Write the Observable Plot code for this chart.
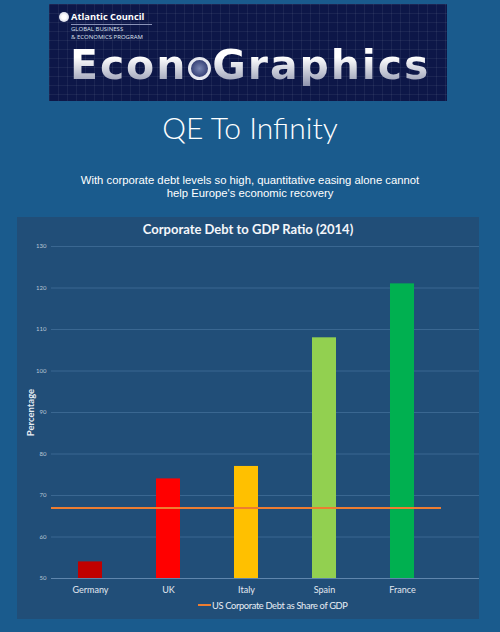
<!DOCTYPE html>
<html>
<head>
<meta charset="utf-8">
<script src="https://cdn.jsdelivr.net/npm/d3@7"></script>
<script src="https://cdn.jsdelivr.net/npm/@observablehq/plot@0.6"></script>
<style>
  html, body { margin: 0; padding: 0; }
  body { width: 500px; height: 632px; background: #1a5b8d; position: relative; overflow: hidden; font-family: "Liberation Sans", Arial, sans-serif; color: #fff; }
  .abs { position: absolute; }
  #header { left: 49px; top: 4px; width: 398px; height: 97px; background-color: #0d1748;
    background-image: linear-gradient(rgba(255,255,255,0.06) 1px, transparent 1px), linear-gradient(90deg, rgba(255,255,255,0.06) 1px, transparent 1px);
    background-size: 9px 9px; }
  #globe { left: 10px; top: 8px; width: 10px; height: 10px; border-radius: 50%; background: radial-gradient(#ffffff 30%, #b9bfd6 100%); }
  #ac { left: 22px; top: 7px; font: bold 9.3px "Open Sans", sans-serif; line-height: 12.7px; white-space: nowrap; }
  #acline { left: 22px; top: 20px; width: 81px; height: 1px; background: #8a93b8; }
  #prog { left: 22px; top: 21px; font: 6px "Open Sans", sans-serif; line-height: 8.2px; color: #dfe3f0; white-space: nowrap; }
  #eg { left: 21px; top: 41px; font: bold 41px "DejaVu Sans", sans-serif; line-height: 41px; letter-spacing: 1.9px; white-space: nowrap;
    background: linear-gradient(#ffffff 30%, #8d93ad 100%); -webkit-background-clip: text; background-clip: text; color: transparent; }
  #logo { display: inline-block; width: 23px; height: 23px; border-radius: 50%; border: 3px solid #e6e8f0; box-sizing: border-box; vertical-align: -1px; margin: 0 1px; background: radial-gradient(#7a86b2, #1c2660); }
  #title { left: 0; width: 500px; top: 109px; text-align: center; font: 300 30px "Lato", sans-serif; }
  #sub { left: 0; width: 500px; top: 174px; text-align: center; font: 11.3px "Liberation Sans", Arial, sans-serif; line-height: 13px; }
  #panel { left: 17px; top: 217px; width: 462px; height: 402px; background: #214e78; }
  #ctitle { left: 17px; width: 462px; top: 221px; text-align: center; font: bold 13px "Lato", sans-serif; color: #f4f6fa; }
  #legend { left: 198px; top: 600px; font: 9.3px "Lato", sans-serif; letter-spacing: -0.35px; color: #e8edf4; white-space: nowrap; }
  #legend span.sw { display: inline-block; width: 13px; height: 2px; background: #ed7d31; vertical-align: 3px; margin-right: 1px; }
  #chart { left: 17px; top: 217px; }
</style>
</head>
<body>
<div id="header" class="abs">
  <div id="globe" class="abs"></div>
  <div id="ac" class="abs">Atlantic Council</div>
  <div id="acline" class="abs"></div>
  <div id="prog" class="abs">GLOBAL BUSINESS<br>&amp; ECONOMICS PROGRAM</div>
  <div id="eg" class="abs">Econ<span id="logo"></span>Graphics</div>
</div>
<div id="title" class="abs">QE To Infinity</div>
<div id="sub" class="abs">With corporate debt levels so high, quantitative easing alone cannot<br>help Europe's economic recovery</div>
<div id="panel" class="abs"></div>
<div id="ctitle" class="abs">Corporate Debt to GDP Ratio (2014)</div>
<div id="chart" class="abs"></div>
<div id="legend" class="abs"><span class="sw"></span>US Corporate Debt as Share of GDP</div>
<script>
const countries = ["Germany", "UK", "Italy", "Spain", "France"];
const debtRatio = [54, 74, 77, 108, 121];
const barColors = ["#c00000", "#ff0000", "#ffc000", "#92d050", "#00b050"];
const usLevel = 67;
const yTicks = [50, 60, 70, 80, 90, 100, 110, 120, 130];
const yLabel = "Percentage";

const data = countries.map((c, i) => ({country: c, value: debtRatio[i], color: barColors[i]}));

const chart = Plot.plot({
  width: 462,
  height: 402,
  marginTop: 29,
  marginBottom: 41,
  marginLeft: 34,
  marginRight: 0,
  style: {background: "transparent", color: "#dbe3ee", fontFamily: "Lato, sans-serif"},
  x: {domain: countries, range: [34, 424], paddingInner: 0.69, paddingOuter: 0.345, label: null},
  y: {domain: [50, 130], label: null},
  marks: [
    Plot.ruleY(yTicks.slice(1), {stroke: "#3a6791", strokeWidth: 1}),
    Plot.ruleY([50], {stroke: "#5f86ad", strokeWidth: 1}),
    Plot.barY(data, {x: "country", y1: 50, y2: "value", fill: "color"}),
    Plot.ruleY([usLevel], {stroke: "#ed7d31", strokeWidth: 2, insetRight: 38}),
    Plot.axisY({ticks: yTicks, tickSize: 0, tickPadding: 5, fontSize: 6, label: null, color: "#b9c6d6"}),
    Plot.axisX({tickSize: 0, tickPadding: 8, fontSize: 9, label: null, color: "#e3e9f1"}),
    Plot.text([yLabel], {frameAnchor: "left", textAnchor: "middle", rotate: -90, dx: -21, fontSize: 9.5, fontWeight: "bold", fill: "#e8edf4"})
  ]
});
document.getElementById("chart").appendChild(chart);
</script>
</body>
</html>
